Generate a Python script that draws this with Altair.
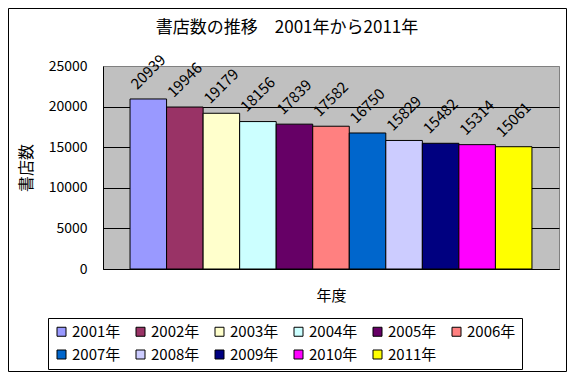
import altair as alt
import pandas as pd

years = ["2001年", "2002年", "2003年", "2004年", "2005年", "2006年",
         "2007年", "2008年", "2009年", "2010年", "2011年"]
stores = [20939, 19946, 19179, 18156, 17839, 17582, 16750, 15829, 15482, 15314, 15061]
colors = ["#9999FF", "#993366", "#FFFFCC", "#CCFFFF", "#660066", "#FF8080",
          "#0066CC", "#CCCCFF", "#000080", "#FF00FF", "#FFFF00"]
y_ticks = [0, 5000, 10000, 15000, 20000, 25000]

FONT = "Noto Sans CJK JP"

df = pd.DataFrame({"year": years, "stores": stores})

base = alt.Chart(df).encode(
    x=alt.X("year:N", sort=years,
            scale=alt.Scale(paddingInner=0, paddingOuter=0.74),
            axis=alt.Axis(labels=False, ticks=False, tickSize=0, title="年度",
                          titleFontSize=15, titleFont=FONT, titleFontWeight="normal",
                          titleColor="black", titleBaseline="middle", titleY=26,
                          domainColor="black", domainWidth=1, grid=False)),
    y=alt.Y("stores:Q",
            scale=alt.Scale(domain=[0, 25000], nice=False),
            axis=alt.Axis(values=y_ticks, format="d", ticks=False, tickSize=0, labelPadding=16,
                          labelFontSize=14, labelFont=FONT, labelColor="black",
                          title="書店数", titleFontSize=16, titleFont=FONT,
                          titleFontWeight="normal", titleColor="black",
                          titleAngle=270, titleX=-77, titleY=101.5,
                          titleAlign="center", titleBaseline="middle",
                          domainColor="black", domainWidth=1,
                          grid=True,
                          gridColor={"condition": {"test": "datum.value === 25000", "value": "#808080"},
                                     "value": "black"},
                          gridWidth=1)),
)

bars = base.mark_bar(stroke="black", strokeWidth=1).encode(
    color=alt.Color("year:N", sort=years,
                    scale=alt.Scale(domain=years, range=colors),
                    legend=alt.Legend(title=None, orient="none", legendX=-55, legendY=252,
                                      direction="horizontal", columns=6,
                                      symbolType="square", symbolSize=81,
                                      symbolStrokeColor="black", symbolStrokeWidth=1,
                                      labelFontSize=15, labelFont=FONT, labelColor="black",
                                      labelOffset=3, columnPadding=12, rowPadding=7,
                                      padding=6, strokeColor="black", fillColor="white"))
)

labels = base.mark_text(angle=315, align="center", baseline="middle", yOffset=-27,
                        fontSize=15, font=FONT, color="black").encode(
    text=alt.Text("stores:Q", format="d")
)

frame = alt.Chart(pd.DataFrame({"a": [0]})).mark_rect(
    filled=False, stroke="black", strokeWidth=1
).encode(
    x=alt.value(-94.5), x2=alt.value(463.5), y=alt.value(-57.5), y2=alt.value(305.5)
)

chart = alt.layer(bars, labels, frame).properties(
    width=456, height=203,
    title=alt.TitleParams("書店数の推移　2001年から2011年", fontSize=17, font=FONT,
                          fontWeight="normal", color="black", anchor="middle",
                          dx=-44, dy=29, offset=0),
    autosize=alt.AutoSizeParams(type="none"),
    padding={"left": 95, "top": 58, "right": 12, "bottom": 108},
    background="white",
).configure_view(
    fill="#C0C0C0", stroke="#808080", strokeWidth=1
)

chart.save("out.html", embed_options={"renderer": "svg", "actions": False})
